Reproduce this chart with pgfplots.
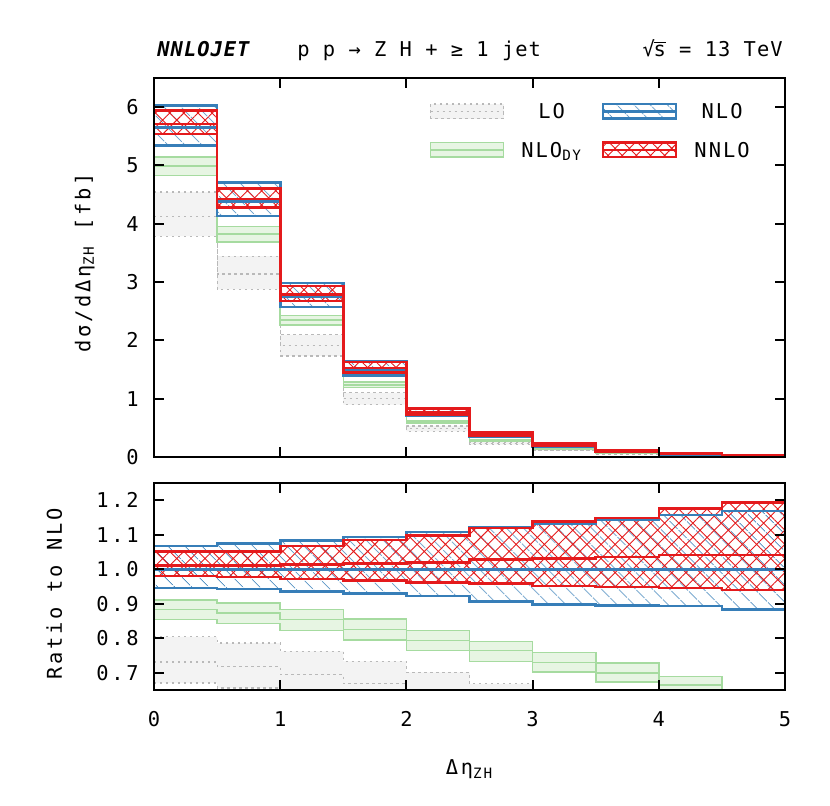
\documentclass[border=0pt]{standalone}
\usepackage{pgfplots}
\pgfplotsset{compat=1.18}
\usepackage{pgfplotstable}
\usepgfplotslibrary{fillbetween}
\usetikzlibrary{patterns.meta}
\usepackage{fontspec}
\setmainfont{DejaVu Sans Mono}[LetterSpace=5]
\newfontfamily\lblfont{DejaVu Sans Mono}[LetterSpace=13]
\newfontfamily\legfont{DejaVu Sans Mono}[LetterSpace=10]
\newcommand\TF{\fontsize{10.2}{12}\selectfont}
\newcommand\LF{\lblfont\fontsize{10.2}{12}\selectfont}
\newcommand\GF{\legfont\fontsize{10.2}{12}\selectfont}

\definecolor{nloblue}{RGB}{55,126,184}
\definecolor{nnlored}{RGB}{228,26,28}
\definecolor{dygreen}{RGB}{166,219,160}
\definecolor{dyfill}{RGB}{231,245,227}
\definecolor{lofill}{RGB}{243,243,243}
\definecolor{loline}{RGB}{185,185,185}

% columns: x, lo, c, hi (absolute, fb) ; rlo, rc, rhi (ratio to NLO)
\pgfplotstableread{
x   lo     c      hi     rlo    rc     rhi
0.0 3.786  4.130  4.543  0.670  0.731  0.804
0.5 2.873  3.140  3.443  0.656  0.717  0.786
1.0 1.733  1.909  2.096  0.630  0.694  0.762
1.5 0.900  1.002  1.100  0.600  0.668  0.733
2.0 0.441  0.486  0.533  0.580  0.640  0.701
2.5 0.213  0.232  0.254  0.560  0.610  0.668
3.0 0.108  0.118  0.128  0.540  0.590  0.640
3.5 0.052  0.057  0.062  0.520  0.570  0.620
4.0 0.026  0.029  0.031  0.500  0.550  0.600
4.5 0.012  0.014  0.015  0.480  0.530  0.580
5.0 0.012  0.014  0.015  0.480  0.530  0.580
}\LOtab
\pgfplotstableread{
x   lo     c      hi     rlo    rc     rhi
0.0 4.825  4.989  5.142  0.854  0.883  0.910
0.5 3.692  3.828  3.955  0.843  0.874  0.903
1.0 2.263  2.349  2.428  0.823  0.854  0.883
1.5 1.193  1.238  1.284  0.795  0.825  0.856
2.0 0.581  0.603  0.625  0.765  0.794  0.823
2.5 0.279  0.291  0.301  0.733  0.765  0.791
3.0 0.140  0.146  0.152  0.702  0.730  0.759
3.5 0.067  0.070  0.073  0.673  0.699  0.728
4.0 0.033  0.035  0.036  0.640  0.665  0.689
4.5 0.016  0.016  0.017  0.595  0.620  0.645
5.0 0.016  0.016  0.017  0.595  0.620  0.645
}\DYtab
\pgfplotstableread{
x   lo     c      hi     rlo    rc     rhi
0.0 5.345  5.650  6.029  0.946  1.000  1.067
0.5 4.130  4.380  4.709  0.943  1.000  1.075
1.0 2.574  2.750  2.981  0.936  1.000  1.084
1.5 1.394  1.500  1.641  0.929  1.000  1.094
2.0 0.701  0.760  0.842  0.922  1.000  1.108
2.5 0.345  0.380  0.426  0.907  1.000  1.122
3.0 0.180  0.200  0.227  0.898  1.000  1.133
3.5 0.090  0.100  0.114  0.895  1.000  1.143
4.0 0.046  0.052  0.060  0.894  1.000  1.157
4.5 0.023  0.026  0.030  0.884  1.000  1.169
5.0 0.023  0.026  0.030  0.884  1.000  1.169
}\NLOtab
\pgfplotstableread{
x   lo     c      hi     rlo    rc     rhi
0.0 5.537  5.712  5.944  0.980  1.011  1.052
0.5 4.279  4.428  4.608  0.977  1.011  1.052
1.0 2.673  2.789  2.934  0.972  1.014  1.067
1.5 1.451  1.526  1.628  0.967  1.017  1.085
2.0 0.730  0.774  0.834  0.961  1.019  1.098
2.5 0.364  0.391  0.426  0.958  1.028  1.120
3.0 0.190  0.206  0.228  0.951  1.031  1.138
3.5 0.095  0.104  0.115  0.949  1.036  1.148
4.0 0.049  0.054  0.061  0.946  1.041  1.176
4.5 0.024  0.027  0.031  0.940  1.041  1.193
5.0 0.024  0.027  0.031  0.940  1.041  1.193
}\NNLOtab

\tikzset{
  nlopat/.style={pattern={Lines[angle=-45,distance=6.4pt,line width=0.5pt]}, pattern color=nloblue!90!white},
  nnlopat/.style={pattern={Hatch[angle=45,distance=5pt,line width=0.45pt]}, pattern color=nnlored},
}
\pgfplotsset{
  myaxis/.style={
    scale only axis, width=315.5pt, xmin=0, xmax=5,
    xtick={0,1,2,3,4,5},
    axis line style={line width=1pt},
    every tick/.style={black, line width=1pt},
    major tick length=5pt,
    tick align=inside,
    yticklabel style={anchor=east, inner sep=0pt, xshift=-7.5pt, font=\LF},
    xticklabel style={anchor=north, inner sep=0pt, yshift=-10.5pt, font=\LF},
    label style={font=\LF},
    axis on top,
  },
  hidden/.style={draw=none, const plot mark left, forget plot},
  lostyle/.style={loline, line width=0.6pt, dash pattern=on 1.2pt off 1.8pt, const plot mark left, forget plot},
  dystyle/.style={dygreen, line width=0.8pt, const plot mark left, forget plot},
  nlostyle/.style={nloblue, line width=1.3pt, const plot mark left, forget plot},
  nnlostyle/.style={nnlored, line width=1.3pt, const plot mark left, forget plot},
}

\begin{document}
\begin{tikzpicture}[font=\TF]

% ---------------- top panel ----------------
\begin{axis}[myaxis, name=top, at={(77pt,174.5pt)}, anchor=south west,
  height=189.5pt, ymin=0, ymax=6.5,
  ytick={0,1,2,3,4,5,6}, yticklabels={0,1,2,3,4,5,6},
  xticklabels={},
  ylabel={dσ/dΔη\textsubscript{ZH} [fb]},
  ylabel style={at={(axis description cs:-0.101,0.512)}, anchor=base},
  legend columns=2, legend cell align=left,
  legend entries={LO,NLO,{NLO\textsubscript{DY}},NNLO},
  legend style={draw=none, fill=none, at={(0.437,0.935)}, anchor=north west,
    inner sep=0pt, outer sep=0pt, row sep=10.7pt, font=\GF,
    nodes={inner sep=0pt, text height=7.3pt, text depth=0pt, anchor=base},
    /tikz/every odd column/.style={column sep=8.5pt},
    /tikz/every even column/.style={column sep=10pt}},
]
\addlegendimage{legend image code/.code={
  \fill[lofill] (0pt,0pt) rectangle (36.5pt,7.3pt);
  \draw[loline, line width=0.6pt, dash pattern=on 1.2pt off 1.8pt] (0pt,0pt) rectangle (36.5pt,7.3pt) (0pt,3.65pt)--(36.5pt,3.65pt);}}
\addlegendimage{legend image code/.code={
  \fill[nlopat] (0pt,0pt) rectangle (36.5pt,7.3pt);
  \draw[nloblue, line width=1.3pt] (0pt,0pt) rectangle (36.5pt,7.3pt) (0pt,3.65pt)--(36.5pt,3.65pt);}}
\addlegendimage{legend image code/.code={
  \fill[dyfill] (0pt,0pt) rectangle (36.5pt,7.3pt);
  \draw[dygreen, line width=0.8pt] (0pt,0pt) rectangle (36.5pt,7.3pt) (0pt,3.65pt)--(36.5pt,3.65pt);}}
\addlegendimage{legend image code/.code={
  \fill[nnlopat] (0pt,0pt) rectangle (36.5pt,7.3pt);
  \draw[nnlored, line width=1.3pt] (0pt,0pt) rectangle (36.5pt,7.3pt) (0pt,3.65pt)--(36.5pt,3.65pt);}}

% LO
\addplot[hidden, name path=TLOa] table[x=x,y=lo]{\LOtab};
\addplot[hidden, name path=TLOb] table[x=x,y=hi]{\LOtab};
\addplot[lofill, forget plot] fill between[of=TLOa and TLOb];
\addplot[lostyle] table[x=x,y=lo]{\LOtab};
\addplot[lostyle] table[x=x,y=c]{\LOtab};
\addplot[lostyle] table[x=x,y=hi]{\LOtab};
% NLO_DY
\addplot[hidden, name path=TDYa] table[x=x,y=lo]{\DYtab};
\addplot[hidden, name path=TDYb] table[x=x,y=hi]{\DYtab};
\addplot[dyfill, forget plot] fill between[of=TDYa and TDYb];
\addplot[dystyle] table[x=x,y=lo]{\DYtab};
\addplot[dystyle] table[x=x,y=c]{\DYtab};
\addplot[dystyle] table[x=x,y=hi]{\DYtab};
% NLO
\addplot[hidden, name path=TNLOa] table[x=x,y=lo]{\NLOtab};
\addplot[hidden, name path=TNLOb] table[x=x,y=hi]{\NLOtab};
\addplot[nlopat, draw=none, forget plot] fill between[of=TNLOa and TNLOb];
\addplot[nlostyle] table[x=x,y=lo]{\NLOtab};
\addplot[nlostyle] table[x=x,y=c]{\NLOtab};
\addplot[nlostyle] table[x=x,y=hi]{\NLOtab};
% NNLO
\addplot[hidden, name path=TNNLOa] table[x=x,y=lo]{\NNLOtab};
\addplot[hidden, name path=TNNLOb] table[x=x,y=hi]{\NNLOtab};
\addplot[nnlopat, draw=none, forget plot] fill between[of=TNNLOa and TNNLOb];
\addplot[nnlostyle] table[x=x,y=lo]{\NNLOtab};
\addplot[nnlostyle] table[x=x,y=c]{\NNLOtab};
\addplot[nnlostyle] table[x=x,y=hi]{\NNLOtab};
\end{axis}

\node[anchor=base west, inner sep=0pt, xshift=1.5pt, yshift=10.5pt, font=\TF\bfseries\itshape] at (top.north west) {NNLOJET};
\node[anchor=base west, inner sep=0pt, xshift=71.5pt, yshift=10.5pt] at (top.north west) {p p → Z H + ≥ 1 jet};
\node[anchor=base east, inner sep=0pt, xshift=-1pt, yshift=10.5pt] at (top.north east) {√\kern-0.6pt\ensuremath{\overline{\mbox{s}}} = 13 TeV};

% ---------------- ratio panel ----------------
\begin{axis}[myaxis, at={(77pt,58pt)}, anchor=south west,
  height=103.5pt, ymin=0.65, ymax=1.25,
  ytick={0.7,0.8,0.9,1.0,1.1,1.2}, yticklabels={0.7,0.8,0.9,1.0,1.1,1.2},
  xticklabels={0,1,2,3,4,5},
  ylabel={Ratio to NLO},
  ylabel style={at={(axis description cs:-0.146,0.464)}, anchor=base},
  xlabel={Δη\textsubscript{ZH}},
  xlabel style={at={(axis description cs:0.5,-0.41)}, anchor=base},
]
% LO
\addplot[hidden, name path=RLOa] table[x=x,y=rlo]{\LOtab};
\addplot[hidden, name path=RLOb] table[x=x,y=rhi]{\LOtab};
\addplot[lofill, forget plot] fill between[of=RLOa and RLOb];
\addplot[lostyle] table[x=x,y=rlo]{\LOtab};
\addplot[lostyle] table[x=x,y=rc]{\LOtab};
\addplot[lostyle] table[x=x,y=rhi]{\LOtab};
% NLO_DY
\addplot[hidden, name path=RDYa] table[x=x,y=rlo]{\DYtab};
\addplot[hidden, name path=RDYb] table[x=x,y=rhi]{\DYtab};
\addplot[dyfill, forget plot] fill between[of=RDYa and RDYb];
\addplot[dystyle] table[x=x,y=rlo]{\DYtab};
\addplot[dystyle] table[x=x,y=rc]{\DYtab};
\addplot[dystyle] table[x=x,y=rhi]{\DYtab};
% NLO
\addplot[hidden, name path=RNLOa] table[x=x,y=rlo]{\NLOtab};
\addplot[hidden, name path=RNLOb] table[x=x,y=rhi]{\NLOtab};
\addplot[nlopat, draw=none, forget plot] fill between[of=RNLOa and RNLOb];
\addplot[nlostyle] table[x=x,y=rlo]{\NLOtab};
\addplot[nlostyle] table[x=x,y=rc]{\NLOtab};
\addplot[nlostyle] table[x=x,y=rhi]{\NLOtab};
% NNLO
\addplot[hidden, name path=RNNLOa] table[x=x,y=rlo]{\NNLOtab};
\addplot[hidden, name path=RNNLOb] table[x=x,y=rhi]{\NNLOtab};
\addplot[nnlopat, draw=none, forget plot] fill between[of=RNNLOa and RNNLOb];
\addplot[nnlostyle] table[x=x,y=rlo]{\NNLOtab};
\addplot[nnlostyle] table[x=x,y=rc]{\NNLOtab};
\addplot[nnlostyle] table[x=x,y=rhi]{\NNLOtab};
\end{axis}

\pgfresetboundingbox
\path (0,0) rectangle (415pt,403pt);
\end{tikzpicture}
\end{document}
